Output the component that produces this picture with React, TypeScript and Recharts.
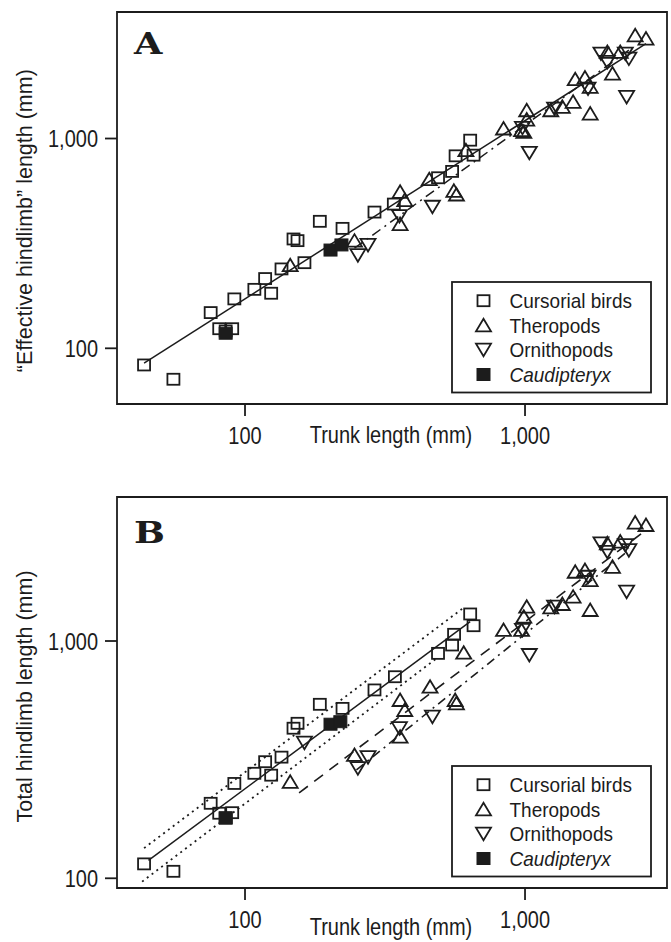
import React from 'react';
import { ScatterChart, Scatter, XAxis, YAxis, ReferenceArea, Legend } from 'recharts';

const FONT = '"Liberation Sans", Arial, Helvetica, sans-serif';
const INK = '#1c1c1c';

// axis ticks
const tickValues = [100, 1000];
const tickLabels = ['100', '1,000'];
const xDomain = [34.9, 3214];

// legend labels
const legendLabels = ['Cursorial birds', 'Theropods', 'Ornithopods', 'Caudipteryx'];

// ---------- Panel A: "Effective hindlimb" length ----------
const birdsAX = [43.6, 55.5, 75.4, 80.9, 85.3, 90, 91.6, 108, 118, 124, 135, 149, 154, 163, 185, 223, 290, 340, 489, 549, 565, 637, 655];
const birdsAY = [83.3, 71.2, 148, 124, 121, 124, 172, 191, 215, 183, 239, 332, 326, 256, 403, 373, 446, 487, 650, 697, 827, 982, 833];
const caudAX = [85.3, 202, 221];
const caudAY = [118, 294, 311];
const theroAX = [145, 246, 358, 372, 358, 455, 557, 569, 615, 838, 972, 1014, 1014, 990, 1236, 1359, 1485, 1511, 1637, 1709, 1709, 1968, 2053, 2188, 2474, 2704];
const theroAY = [249, 326, 557, 509, 391, 640, 563, 541, 880, 1116, 1096, 1364, 1231, 1076, 1364, 1416, 1496, 1917, 1951, 1762, 1315, 2588, 2040, 2588, 3105, 2994];
const orniAX = [253, 275, 356, 467, 979, 1036, 1275, 1679, 1867, 1968, 2281, 2306, 2349];
const orniAY = [278, 311, 427, 473, 1124, 855, 1389, 1730, 2540, 2317, 2540, 1579, 2404];
const lineASolidX = [43.6, 2704];
const lineASolidY = [85, 2832];
const lineADashDotX = [246, 2349];
const lineADashDotY = [300, 2636];

// ---------- Panel B: Total hindlimb length ----------
const birdsBX = [43.6, 55.5, 75.4, 80.9, 85.3, 90, 91.6, 108, 118, 124, 135, 149, 154, 185, 223, 290, 343, 489, 549, 558, 637, 655];
const birdsBY = [115, 107, 207, 188, 179, 189, 251, 277, 310, 272, 324, 429, 450, 541, 520, 622, 707, 887, 962, 1067, 1300, 1160];
const caudBX = [85.3, 202, 219];
const caudBY = [180, 446, 457];
const theroBX = [145, 246, 358, 372, 358, 458, 563, 569, 604, 838, 972, 1014, 990, 1236, 1359, 1485, 1511, 1637, 1709, 1709, 1968, 2053, 2188, 2474, 2704];
const theroBY = [255, 331, 564, 512, 395, 642, 564, 546, 893, 1113, 1113, 1395, 1266, 1387, 1432, 1538, 1958, 1992, 1807, 1351, 2581, 2055, 2625, 3155, 3083];
const orniBX = [163, 253, 275, 356, 467, 979, 1036, 1275, 1679, 1867, 1968, 2281, 2306, 2349];
const orniBY = [373, 291, 324, 429, 480, 1113, 873, 1395, 1866, 2581, 2377, 2536, 1614, 2415];
const lineBSolidX = [45.2, 637];
const lineBSolidY = [119, 1206];
const lineBDotUpX = [43.6, 608];
const lineBDotUpY = [134, 1390];
const lineBDotLowX = [42.9, 480];
const lineBDotLowY = [96.8, 840];
const lineBDashX = [156, 2612];
const lineBDashY = [229, 2844];
const lineBDashDotX = [250, 2350];
const lineBDashDotY = [286, 2415];

type Pt = { x: number; y: number };
const zip = (xs: number[], ys: number[]): Pt[] => xs.map((x, i) => ({ x, y: ys[i] }));

// ---------- marker shapes ----------
const SqPath = ({ cx, cy }: { cx: number; cy: number }) => (
  <rect x={cx - 6} y={cy - 5.5} width={12} height={11} fill="none" stroke={INK} strokeWidth={1.8} />
);
const FilledSqPath = ({ cx, cy }: { cx: number; cy: number }) => (
  <rect x={cx - 6.5} y={cy - 6} width={13} height={12} fill={INK} stroke={INK} strokeWidth={1} />
);
const UpPath = ({ cx, cy }: { cx: number; cy: number }) => (
  <polygon points={`${cx - 7.5},${cy + 6} ${cx + 7.5},${cy + 6} ${cx},${cy - 6.5}`} fill="none" stroke={INK} strokeWidth={1.8} strokeLinejoin="miter" />
);
const DownPath = ({ cx, cy }: { cx: number; cy: number }) => (
  <polygon points={`${cx - 7.5},${cy - 6} ${cx + 7.5},${cy - 6} ${cx},${cy + 6.5}`} fill="none" stroke={INK} strokeWidth={1.8} strokeLinejoin="miter" />
);

const sqShape = (p: any) => (p.cx == null ? <g /> : <SqPath cx={p.cx} cy={p.cy} />);
const fsqShape = (p: any) => (p.cx == null ? <g /> : <FilledSqPath cx={p.cx} cy={p.cy} />);
const upShape = (p: any) => (p.cx == null ? <g /> : <UpPath cx={p.cx} cy={p.cy} />);
const downShape = (p: any) => (p.cx == null ? <g /> : <DownPath cx={p.cx} cy={p.cy} />);
const noShape = () => <g />;

// ---------- text helpers ----------
const SText = ({ x, y, anchor = 'start', size = 20, sy = 1.2, italic = false, children }: any) => (
  <text
    transform={`translate(${x},${y}) scale(1,${sy})`}
    textAnchor={anchor}
    fontSize={size}
    fontFamily={FONT}
    fontStyle={italic ? 'italic' : 'normal'}
    fill={INK}
  >
    {children}
  </text>
);

const labelFor = (v: number) => {
  const i = tickValues.indexOf(v);
  return i >= 0 ? tickLabels[i] : String(v);
};

const XTick = (p: any) => (
  <SText x={p.x} y={p.y + 26} anchor="middle">
    {labelFor(p.payload.value)}
  </SText>
);
const YTick = (p: any) => (
  <SText x={p.x} y={p.y + 8.6} anchor="end">
    {labelFor(p.payload.value)}
  </SText>
);

// ---------- legend ----------
const LegendBox = () => {
  const rows = [18.7, 43.3, 67.7, 92.5];
  const sx = 32.5;
  const shapes = [
    <SqPath key="s" cx={sx} cy={rows[0] + 1} />,
    <UpPath key="u" cx={sx} cy={rows[1] + 1} />,
    <DownPath key="d" cx={sx} cy={rows[2] + 1} />,
    <FilledSqPath key="f" cx={sx} cy={rows[3] + 1} />,
  ];
  return (
    <svg width={202} height={114} style={{ display: 'block', overflow: 'visible' }}>
      <rect x={1} y={1} width={199} height={110.5} fill="#fff" stroke={INK} strokeWidth={1.8} />
      {shapes}
      {legendLabels.map((t, i) => (
        <SText key={t} x={58.5} y={rows[i] + 1 + 7.5} size={19} sy={1.1} italic={i === 3}>
          {t}
        </SText>
      ))}
    </svg>
  );
};

type LineSpec = { xs: number[]; ys: number[]; dash?: string; width?: number };

type PanelCfg = {
  height: number;
  top: number;
  plotH: number;
  yDomain: number[];
  letter: string;
  letterDy: number;
  yTitle: string;
  yTitleCy: number;
  xTitleDy: number;
  birds: Pt[];
  caud: Pt[];
  thero: Pt[];
  orni: Pt[];
  lines: LineSpec[];
};

const PLOT_LEFT = 117;
const PLOT_RIGHT = 667;

function Panel({ cfg }: { cfg: PanelCfg }) {
  const plotBottom = cfg.top + cfg.plotH;
  const xAxisH = cfg.height - plotBottom;
  return (
    <ScatterChart width={671} height={cfg.height} margin={{ top: cfg.top, right: 671 - PLOT_RIGHT, bottom: 0, left: 0 }}>
      <XAxis
        type="number"
        dataKey="x"
        scale="log"
        domain={xDomain}
        allowDataOverflow
        ticks={tickValues}
        tickSize={12}
        tickMargin={2}
        axisLine={false}
        tickLine={{ stroke: INK, strokeWidth: 1.8 }}
        tick={<XTick />}
        height={xAxisH}
        label={{
          content: () => (
            <SText x={(PLOT_LEFT + PLOT_RIGHT) / 2 - 1} y={plotBottom + cfg.xTitleDy} anchor="middle">
              Trunk length (mm)
            </SText>
          ),
        }}
      />
      <YAxis
        type="number"
        dataKey="y"
        scale="log"
        domain={cfg.yDomain}
        allowDataOverflow
        ticks={tickValues}
        tickSize={12}
        tickMargin={7}
        axisLine={false}
        tickLine={{ stroke: INK, strokeWidth: 1.8 }}
        tick={<YTick />}
        width={PLOT_LEFT}
        label={{
          content: () => (
            <text
              transform={`translate(32,${cfg.yTitleCy}) rotate(-90)`}
              textAnchor="middle"
              fontSize={21.5}
              fontFamily={FONT}
              fill={INK}
            >
              {cfg.yTitle}
            </text>
          ),
        }}
      />
      <ReferenceArea
        x1={xDomain[0]}
        x2={xDomain[1]}
        y1={cfg.yDomain[0]}
        y2={cfg.yDomain[1]}
        fill="none"
        fillOpacity={0}
        stroke={INK}
        strokeWidth={1.8}
        ifOverflow="visible"
        label={{
          content: () => (
            <text
              transform={`translate(${PLOT_LEFT + 17},${cfg.top + cfg.letterDy}) scale(1.22,1)`}
              fontSize={30}
              fontWeight="bold"
              fontFamily='"DejaVu Serif", "Liberation Serif", serif'
              fill={INK}
            >
              {cfg.letter}
            </text>
          ),
        }}
      />
      {cfg.lines.map((l, i) => (
        <Scatter
          key={`line${i}`}
          data={zip(l.xs, l.ys)}
          shape={noShape}
          line={{ stroke: INK, strokeWidth: l.width ?? 1.5, strokeDasharray: l.dash, fill: 'none' }}
          lineType="joint"
          legendType="none"
          isAnimationActive={false}
        />
      ))}
      <Scatter name="Cursorial birds" data={cfg.birds} shape={sqShape} isAnimationActive={false} />
      <Scatter name="Theropods" data={cfg.thero} shape={upShape} isAnimationActive={false} />
      <Scatter name="Ornithopods" data={cfg.orni} shape={downShape} isAnimationActive={false} />
      <Scatter name="Caudipteryx" data={cfg.caud} shape={fsqShape} isAnimationActive={false} />
      <Legend
        layout="vertical"
        align="center"
        verticalAlign="middle"
        content={() => <LegendBox />}
        wrapperStyle={{
          position: 'absolute',
          left: 450.7,
          top: plotBottom - 123.3,
          width: 202,
          height: 114,
          margin: 0,
          padding: 0,
        }}
      />
    </ScatterChart>
  );
}

const panelA: PanelCfg = {
  height: 470,
  top: 12,
  plotH: 392,
  yDomain: [54.27, 4009],
  letter: 'A',
  letterDy: 42,
  yTitle: '\u201CEffective hindlimb\u201D length (mm)',
  yTitleCy: 220.7,
  xTitleDy: 39,
  birds: zip(birdsAX, birdsAY),
  caud: zip(caudAX, caudAY),
  thero: zip(theroAX, theroAY),
  orni: zip(orniAX, orniAY),
  lines: [
    { xs: lineASolidX, ys: lineASolidY },
    { xs: lineADashDotX, ys: lineADashDotY, dash: '10 5 2 5' },
  ],
};

const panelB: PanelCfg = {
  height: 472,
  top: 27,
  plotH: 391,
  yDomain: [91.0, 4045],
  letter: 'B',
  letterDy: 46,
  yTitle: 'Total hindlimb length (mm)',
  yTitleCy: 226.5,
  xTitleDy: 47,
  birds: zip(birdsBX, birdsBY),
  caud: zip(caudBX, caudBY),
  thero: zip(theroBX, theroBY),
  orni: zip(orniBX, orniBY),
  lines: [
    { xs: lineBSolidX, ys: lineBSolidY },
    { xs: lineBDotUpX, ys: lineBDotUpY, dash: '2 4', width: 1.8 },
    { xs: lineBDotLowX, ys: lineBDotLowY, dash: '2 4', width: 1.8 },
    { xs: lineBDashX, ys: lineBDashY, dash: '11 8', width: 1.6 },
    { xs: lineBDashDotX, ys: lineBDashDotY, dash: '9 5 2 5', width: 1.6 },
  ],
};

export default function App() {
  return (
    <div style={{ position: 'absolute', left: 0, top: 0, width: 671, height: 942, background: '#fff' }}>
      <Panel cfg={panelA} />
      <Panel cfg={panelB} />
    </div>
  );
}
